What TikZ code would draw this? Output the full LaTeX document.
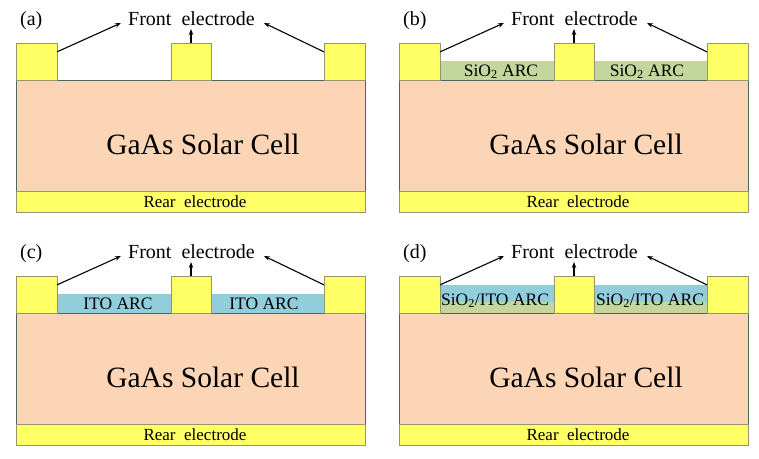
\documentclass[tikz,border=0pt]{standalone}
\usepackage{fontspec}
\setmainfont{Liberation Serif}
\newfontfamily\tnr{Liberation Serif}
\usetikzlibrary{calc,arrows.meta}
\definecolor{elecY}{RGB}{255,255,102}
\definecolor{elecB}{RGB}{150,150,110}
\definecolor{bodyF}{RGB}{251,213,181}
\definecolor{bodyB}{RGB}{80,100,100}
\definecolor{arcBlue}{RGB}{146,205,220}
\definecolor{arcGreen}{RGB}{195,214,155}
\begin{document}
\begin{tikzpicture}[x=1pt,y=-1pt,
  box/.style={inner sep=0pt, outer sep=0pt, anchor=north west},
  elec/.style={box, draw=elecB, fill=elecY, line width=0.8pt, minimum height=37pt},
  body/.style={box, draw=bodyB, fill=bodyF, line width=0.9pt, minimum width=349pt, minimum height=111pt},
  rear/.style={box, draw=elecB, fill=elecY, line width=0.8pt, minimum width=349pt, minimum height=21pt},
  arc/.style={box, minimum height=19pt},
  arr/.style={line width=1.1pt, -{Stealth[length=6pt,width=4.5pt]}},
  lab/.style={font=\tnr\fontsize{20}{24}\selectfont, inner sep=0pt, anchor=base},
  big/.style={font=\tnr\fontsize{29.5}{34}\selectfont, inner sep=0pt, anchor=base},
  reartxt/.style={font=\tnr\fontsize{17}{20}\selectfont, inner sep=0pt, anchor=base},
  arctxt/.style={font=\tnr\fontsize{17.5}{20}\selectfont, inner sep=0pt, anchor=base}]
\useasboundingbox (0,0) rectangle (759,458);
\foreach \p/\dx/\dy/\typ in {a/0/0/0,b/383/0/1,c/0/233/2,d/383/233/3}{
 \begin{scope}[shift={(\dx,\dy)}]
  \node[body] (\p-body) at (16,80) {};
  \node[rear] (\p-rear) at (16,191) {};
  \ifcase\typ
  \or
   \node[arc, fill=arcGreen, minimum width=114pt] (\p-arc1) at (57,61) {};
   \node[arc, fill=arcGreen, minimum width=113pt] (\p-arc2) at (211,61) {};
   \node[arctxt] (\p-t1) at (118,76) {SiO\textsubscript{2} ARC};
   \node[arctxt] (\p-t2) at (264,76) {SiO\textsubscript{2} ARC};
  \or
   \node[arc, fill=arcBlue, minimum width=114pt] (\p-arc1) at (57,61) {};
   \node[arc, fill=arcBlue, minimum width=113pt] (\p-arc2) at (211,61) {};
   \node[arctxt] (\p-t1) at (118,76) {ITO ARC};
   \node[arctxt] (\p-t2) at (264,76) {ITO ARC};
  \or
   \node[box, fill=arcBlue, minimum width=114pt, minimum height=17pt] (\p-arc1) at (57,52) {};
   \node[box, fill=arcGreen, minimum width=114pt, minimum height=11pt] (\p-arc1g) at (57,69) {};
   \node[box, fill=arcBlue, minimum width=113pt, minimum height=17pt] (\p-arc2) at (211,52) {};
   \node[box, fill=arcGreen, minimum width=113pt, minimum height=11pt] (\p-arc2g) at (211,69) {};
   \node[arctxt] (\p-t1) at (112,72) {SiO\textsubscript{2}/ITO ARC};
   \node[arctxt] (\p-t2) at (267,72) {SiO\textsubscript{2}/ITO ARC};
  \fi
  \node[elec, minimum width=41pt] (\p-L) at (16,43) {};
  \node[elec, minimum width=40pt] (\p-M) at (171,43) {};
  \node[elec, minimum width=41pt] (\p-R) at (324,43) {};
  \node[lab, anchor=base west] (\p-lab) at (20,25) {(\p)};
  \node[lab] (\p-ft) at (191.5,25) {Front\ \ electrode};
  \node[big] (\p-gaas) at (203,154) {GaAs Solar Cell};
  \node[reartxt] (\p-rt) at (195,207) {Rear\ \ electrode};
  \draw[arr] ($(\p-L.north east)!0.24!(\p-L.south east)$) -- ($(\p-ft.base west)+(-7,-2)$);
  \draw[arr] ($(\p-R.north west)!0.24!(\p-R.south west)$) -- ($(\p-ft.base east)+(9,-2)$);
  \draw[arr] (\p-M.north) -- ++(0,-14);
 \end{scope}
}
\end{tikzpicture}
\end{document}
